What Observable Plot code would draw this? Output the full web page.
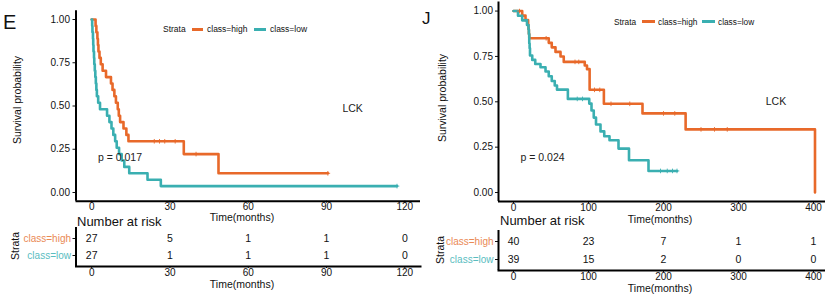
<!DOCTYPE html>
<html><head><meta charset="utf-8">
<script src="https://cdn.jsdelivr.net/npm/d3@7"></script>
<script src="https://cdn.jsdelivr.net/npm/@observablehq/plot@0.6"></script>
<style>
body{margin:0;background:#fff;}
#root{position:relative;width:825px;height:296px;overflow:hidden;background:#fff;font-family:'Liberation Sans',Arial,Helvetica,sans-serif;color:#111;}
#root svg{position:absolute;overflow:visible;background:transparent;}
.lab{position:absolute;line-height:1;white-space:nowrap;}
.sw{position:absolute;height:3px;}
</style></head><body><div id="root"></div>
<script>
// ---------- data ----------
const strata = ["class=high", "class=low"];

// Panel E
const eHighTime = [0, 1.5, 1.8, 2.2, 2.4, 2.6, 3.0, 3.5, 4.2, 5.5, 7.4, 8.0, 8.7, 9.3, 10.0, 10.4, 10.9, 12.2, 13.3, 14.1, 35.3, 48.6, 90.5];
const eHighSurv = [1, .963, .926, .889, .852, .815, .778, .741, .704, .667, .630, .593, .556, .519, .481, .444, .407, .370, .333, .296, .222, .111, .111];
const eHighCensTime = [24, 26, 28, 32, 40, 90.5];
const eHighCensSurv = [.296, .296, .296, .296, .222, .111];
const eLowTime = [0, 0.2, 0.3, 0.5, 0.6, 0.7, 0.9, 1.0, 1.2, 1.4, 1.6, 1.8, 2.0, 2.5, 3.2, 5.9, 6.8, 7.6, 8.3, 9.0, 9.6, 10.5, 11.5, 12.5, 14.4, 21.4, 26.5, 117];
const eLowSurv = [1, .963, .926, .889, .852, .815, .778, .741, .704, .667, .630, .593, .556, .519, .481, .444, .407, .370, .333, .296, .259, .222, .185, .148, .111, .074, .037, .037];
const eLowCensTime = [117];
const eLowCensSurv = [.037];
const eTicks = [0, 30, 60, 90, 120];
const eRiskHigh = [27, 5, 1, 1, 0];
const eRiskLow = [27, 1, 1, 1, 0];
const ePval = "p = 0.017";

// Panel J
const jHighTime = [0, 11.6, 16, 19.5, 20, 20.5, 21, 47, 51, 56, 62.7, 67, 95, 98, 101.5, 120.5, 172, 229.5, 402];
const jHighSurv = [1, .975, .95, .925, .90, .875, .85, .825, .80, .775, .75, .72, .70, .68, .566, .489, .436, .348, 0];
const jHighCensTime = [8, 43.5, 82, 87, 108, 115, 130, 155, 200, 215, 250, 268, 285];
const jHighCensSurv = [1, .85, .72, .72, .566, .566, .489, .489, .436, .436, .348, .348, .348];
const jLowTime = [0, 6, 11.6, 18, 20, 20.5, 21, 21.5, 22, 25, 29, 36, 42.7, 47, 51, 55, 58, 72.5, 101, 104, 107, 110, 116, 121, 128, 140, 154, 180, 218];
const jLowSurv = [1, .974, .949, .923, .897, .872, .821, .795, .755, .731, .708, .690, .667, .641, .615, .590, .567, .516, .490, .452, .413, .375, .337, .310, .288, .242, .178, .119, .119];
const jLowCensTime = [85, 92, 196, 205, 212, 218];
const jLowCensSurv = [.516, .516, .119, .119, .119, .119];
const jTicks = [0, 100, 200, 300, 400];
const jRiskHigh = [40, 23, 7, 1, 1];
const jRiskLow = [39, 15, 2, 0, 0];
const jPval = "p = 0.024";

const gene = "LCK";
const survTicks = [0, 0.25, 0.5, 0.75, 1];

// ---------- style ----------
const ORANGE = "#E8692A", TEAL = "#3AAFB1";
const ORANGE_T = "#EA8A55", TEAL_T = "#5ABDBF";
const FONT = "'Liberation Sans', Arial, Helvetica, sans-serif";
const INK = "#111";
const root = document.getElementById("root");

const zip = (ts, ss) => ts.map((t, i) => ({t, s: ss[i]}));
const expand = (max) => [-0.05 * max, 1.05 * max];

function place(svg, left, top) {
  svg.style.left = left + "px";
  svg.style.top = top + "px";
  root.appendChild(svg);
}
function label(text, x, y, {size = 10.5, anchor = "start", color = INK, rotate = false} = {}) {
  const d = document.createElement("div");
  d.className = "lab"; d.textContent = text;
  d.style.left = x + "px"; d.style.top = y + "px";
  d.style.fontSize = size + "px"; d.style.color = color;
  const tx = anchor === "start" ? "0" : anchor === "middle" ? "-50%" : "-100%";
  d.style.transform = rotate ? "translate(-50%,-50%) rotate(-90deg)" : `translate(${tx},-50%)`;
  root.appendChild(d);
}
function swatch(x, y, w, color) {
  const d = document.createElement("div");
  d.className = "sw";
  d.style.left = x + "px"; d.style.top = (y - 1.5) + "px"; d.style.width = w + "px"; d.style.background = color;
  root.appendChild(d);
}

function kmPlot({width, height, mL, mT, mB, xMax, ticks, high, low, highC, lowC, pval, pPos, genePos, tickPad}) {
  const xd = expand(xMax), yd = [-0.05, 1.05];
  return Plot.plot({
    width, height, marginLeft: mL, marginRight: 0, marginTop: mT, marginBottom: mB,
    x: {domain: xd}, y: {domain: yd},
    style: {fontFamily: FONT, fontSize: "10px", color: INK, background: "transparent"},
    marks: [
      Plot.axisY({ticks: survTicks, tickFormat: d3.format(".2f"), tickSize: 3, tickPadding: tickPad, label: null}),
      Plot.axisX({ticks, tickSize: 2, tickPadding: 0, label: null}),
      Plot.ruleX([xd[0]], {stroke: "#000", strokeWidth: 2}),
      Plot.ruleY([yd[0]], {stroke: "#000", strokeWidth: 2}),
      Plot.line(high, {x: "t", y: "s", curve: "step-after", stroke: ORANGE, strokeWidth: 2.6}),
      Plot.line(low, {x: "t", y: "s", curve: "step-after", stroke: TEAL, strokeWidth: 2.6}),
      Plot.dot(highC, {x: "t", y: "s", symbol: "plus", r: 1.6, stroke: ORANGE, strokeWidth: 0.9}),
      Plot.dot(lowC, {x: "t", y: "s", symbol: "plus", r: 1.6, stroke: TEAL, strokeWidth: 0.9}),
      Plot.text([pval], {x: pPos[0], y: pPos[1], text: d => d, textAnchor: "start", fontSize: 10.5, fill: "#222"}),
      Plot.text([gene], {x: genePos[0], y: genePos[1], text: d => d, fontSize: 10.5, fill: "#222"})
    ]
  });
}

function riskPlot({width, height, mL, mT, mB, xMax, ticks, hi, lo}) {
  const xd = expand(xMax);
  const rows = [
    ...ticks.map((t, i) => ({t, strata: strata[0], n: hi[i]})),
    ...ticks.map((t, i) => ({t, strata: strata[1], n: lo[i]}))
  ];
  return Plot.plot({
    width, height, marginLeft: mL, marginRight: 0, marginTop: mT, marginBottom: mB,
    x: {domain: xd},
    y: {type: "point", domain: strata, padding: 0.6},
    style: {fontFamily: FONT, fontSize: "10px", color: INK, background: "transparent"},
    marks: [
      Plot.axisY({tickSize: 3, tickFormat: () => "", label: null}),
      Plot.axisX({ticks, tickSize: 2, tickPadding: 0, label: null}),
      Plot.ruleX([xd[0]], {stroke: "#000", strokeWidth: 2}),
      Plot.frame({anchor: "bottom", stroke: "#000", strokeWidth: 2}),
      Plot.text([strata[0]], {y: d => d, text: d => d, frameAnchor: "left", textAnchor: "end", dx: -5, fill: ORANGE_T, fontSize: 10}),
      Plot.text([strata[1]], {y: d => d, text: d => d, frameAnchor: "left", textAnchor: "end", dx: -5, fill: TEAL_T, fontSize: 10}),
      Plot.text(rows, {x: "t", y: "strata", text: d => String(d.n), fontSize: 10.5, fill: INK})
    ]
  });
}

// ---------- Panel E ----------
place(kmPlot({width: 420, height: 222, mL: 75.5, mT: 10.35, mB: 21.35, xMax: 120, ticks: eTicks,
  high: zip(eHighTime, eHighSurv), low: zip(eLowTime, eLowSurv),
  highC: zip(eHighCensTime, eHighCensSurv), lowC: zip(eLowCensTime, eLowCensSurv),
  pval: ePval, pPos: [2.4, 0.2], genePos: [100, 0.485], tickPad: 3}), 0, 0);
place(riskPlot({width: 420, height: 88, mL: 75.5, mT: 20, mB: 29, xMax: 120, ticks: eTicks,
  hi: eRiskHigh, lo: eRiskLow}), 0, 207);

label("E", 3, 22, {size: 20});
label("Survival probability", 17, 100, {rotate: true});
label("Time(months)", 242, 217, {anchor: "middle"});
label("Number at risk", 77, 221, {size: 13});
label("Strata", 15, 246, {rotate: true});
label("Time(months)", 242, 283.5, {anchor: "middle"});
label("Strata", 163, 29, {size: 8.5});
swatch(192, 29, 11, ORANGE);
label(strata[0], 207, 29, {size: 8.5});
swatch(254, 29, 12, TEAL);
label(strata[1], 270, 29, {size: 8.5});

// ---------- Panel J ----------
place(kmPlot({width: 408, height: 222, mL: 78, mT: 1.5, mB: 20.9, xMax: 400, ticks: jTicks,
  high: zip(jHighTime, jHighSurv), low: zip(jLowTime, jLowSurv),
  highC: zip(jHighCensTime, jHighCensSurv), lowC: zip(jLowCensTime, jLowCensSurv),
  pval: jPval, pPos: [9.3, 0.193], genePos: [350, 0.5], tickPad: 2.5}), 420, 0);
place(riskPlot({width: 408, height: 86, mL: 78, mT: 20, mB: 26, xMax: 400, ticks: jTicks,
  hi: jRiskHigh, lo: jRiskLow}), 420, 210);

label("J", 422, 17.5, {size: 17});
label("Survival probability", 442, 98, {rotate: true});
label("Time(months)", 660, 218.5, {anchor: "middle"});
label("Number at risk", 500, 220, {size: 13});
label("Strata", 440, 250, {rotate: true});
label("Time(months)", 660, 287.5, {anchor: "middle"});
label("Strata", 614, 21.7, {size: 8.3});
swatch(642, 21.7, 13, ORANGE);
label(strata[0], 658, 21.7, {size: 8.3});
swatch(702, 21.7, 13, TEAL);
label(strata[1], 718, 21.7, {size: 8.3});
</script></body></html>
